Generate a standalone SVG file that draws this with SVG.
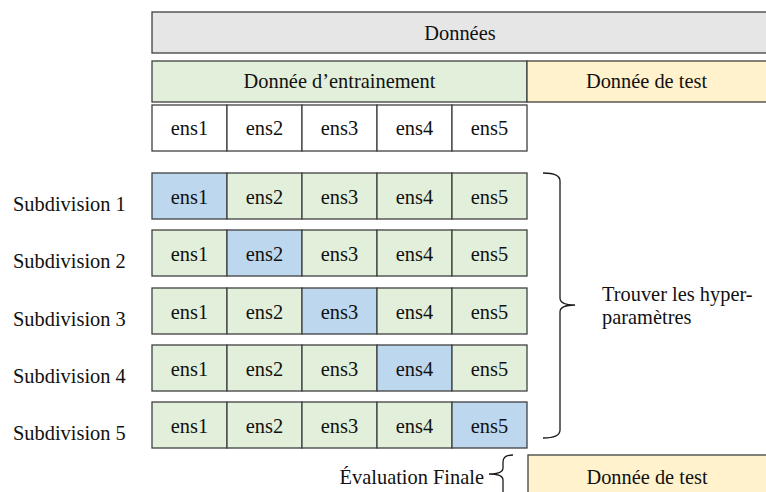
<svg xmlns="http://www.w3.org/2000/svg" width="766" height="492" viewBox="0 0 766 492">
<style>
  text { font-family: "Liberation Serif", "Times New Roman", serif; font-size: 20.4px; fill: #111111; }
  .c { text-anchor: middle; }
  .box { stroke: #404040; stroke-width: 1.3; }
  .grey { fill: #e7e6e6; }
  .green { fill: #e2efda; }
  .yellow { fill: #fff2cc; }
  .blue { fill: #bdd7ee; }
  .white { fill: #ffffff; }
  .brace { fill: none; stroke: #1a1a1a; stroke-width: 1.3; }
</style>
<rect width="766" height="492" fill="#ffffff"/>

<g id="donnees">
  <rect class="box grey" x="152" y="12" width="620" height="41"/>
  <text class="c" x="460" y="40">Données</text>
</g>
<g id="entrainement">
  <rect class="box green" x="152" y="61" width="375" height="41"/>
  <text class="c" x="339.5" y="88">Donnée d’entrainement</text>
</g>
<g id="test-top">
  <rect class="box yellow" x="527" y="61" width="245" height="41"/>
  <text class="c" x="646.5" y="88">Donnée de test</text>
</g>
<g id="ens-row">
  <rect class="box white" x="152" y="105" width="75" height="46"/>
  <rect class="box white" x="227" y="105" width="75" height="46"/>
  <rect class="box white" x="302" y="105" width="75" height="46"/>
  <rect class="box white" x="377" y="105" width="75" height="46"/>
  <rect class="box white" x="452" y="105" width="75" height="46"/>
  <text class="c" x="189.5" y="135">ens1</text>
  <text class="c" x="264.5" y="135">ens2</text>
  <text class="c" x="339.5" y="135">ens3</text>
  <text class="c" x="414.5" y="135">ens4</text>
  <text class="c" x="489.5" y="135">ens5</text>
</g>

<g id="sub1">
  <text x="13" y="211">Subdivision 1</text>
  <rect class="box blue" x="152" y="173" width="75" height="46"/>
  <rect class="box green" x="227" y="173" width="75" height="46"/>
  <rect class="box green" x="302" y="173" width="75" height="46"/>
  <rect class="box green" x="377" y="173" width="75" height="46"/>
  <rect class="box green" x="452" y="173" width="75" height="46"/>
  <text class="c" x="189.5" y="204">ens1</text>
  <text class="c" x="264.5" y="204">ens2</text>
  <text class="c" x="339.5" y="204">ens3</text>
  <text class="c" x="414.5" y="204">ens4</text>
  <text class="c" x="489.5" y="204">ens5</text>
</g>
<g id="sub2">
  <text x="13" y="268">Subdivision 2</text>
  <rect class="box green" x="152" y="230" width="75" height="46"/>
  <rect class="box blue" x="227" y="230" width="75" height="46"/>
  <rect class="box green" x="302" y="230" width="75" height="46"/>
  <rect class="box green" x="377" y="230" width="75" height="46"/>
  <rect class="box green" x="452" y="230" width="75" height="46"/>
  <text class="c" x="189.5" y="261">ens1</text>
  <text class="c" x="264.5" y="261">ens2</text>
  <text class="c" x="339.5" y="261">ens3</text>
  <text class="c" x="414.5" y="261">ens4</text>
  <text class="c" x="489.5" y="261">ens5</text>
</g>
<g id="sub3">
  <text x="13" y="326">Subdivision 3</text>
  <rect class="box green" x="152" y="288" width="75" height="46"/>
  <rect class="box green" x="227" y="288" width="75" height="46"/>
  <rect class="box blue" x="302" y="288" width="75" height="46"/>
  <rect class="box green" x="377" y="288" width="75" height="46"/>
  <rect class="box green" x="452" y="288" width="75" height="46"/>
  <text class="c" x="189.5" y="319">ens1</text>
  <text class="c" x="264.5" y="319">ens2</text>
  <text class="c" x="339.5" y="319">ens3</text>
  <text class="c" x="414.5" y="319">ens4</text>
  <text class="c" x="489.5" y="319">ens5</text>
</g>
<g id="sub4">
  <text x="13" y="383">Subdivision 4</text>
  <rect class="box green" x="152" y="345" width="75" height="46"/>
  <rect class="box green" x="227" y="345" width="75" height="46"/>
  <rect class="box green" x="302" y="345" width="75" height="46"/>
  <rect class="box blue" x="377" y="345" width="75" height="46"/>
  <rect class="box green" x="452" y="345" width="75" height="46"/>
  <text class="c" x="189.5" y="376">ens1</text>
  <text class="c" x="264.5" y="376">ens2</text>
  <text class="c" x="339.5" y="376">ens3</text>
  <text class="c" x="414.5" y="376">ens4</text>
  <text class="c" x="489.5" y="376">ens5</text>
</g>
<g id="sub5">
  <text x="13" y="440">Subdivision 5</text>
  <rect class="box green" x="152" y="402" width="75" height="46"/>
  <rect class="box green" x="227" y="402" width="75" height="46"/>
  <rect class="box green" x="302" y="402" width="75" height="46"/>
  <rect class="box green" x="377" y="402" width="75" height="46"/>
  <rect class="box blue" x="452" y="402" width="75" height="46"/>
  <text class="c" x="189.5" y="433">ens1</text>
  <text class="c" x="264.5" y="433">ens2</text>
  <text class="c" x="339.5" y="433">ens3</text>
  <text class="c" x="414.5" y="433">ens4</text>
  <text class="c" x="489.5" y="433">ens5</text>
</g>

<g id="test-bottom">
  <rect class="box yellow" x="528" y="455" width="244" height="45"/>
  <text class="c" x="647" y="484">Donnée de test</text>
</g>

<g id="connectors">
  <path class="brace" d="M543,173 Q560,173 560,181 L560,298 Q560,305 575,305 Q560,305 560,312 L560,430 Q560,438 543,438"/>
  <path class="brace" d="M513,455 Q503,455 503,462 L503,468 Q503,474 489,474 Q503,474 503,480 L503,492"/>
</g>

<g id="hyper-label">
  <text x="602" y="301">Trouver les hyper-</text>
  <text x="602" y="324">paramètres</text>
</g>
<g id="eval-label">
  <text x="484" y="484" text-anchor="end">Évaluation Finale</text>
</g>
</svg>
